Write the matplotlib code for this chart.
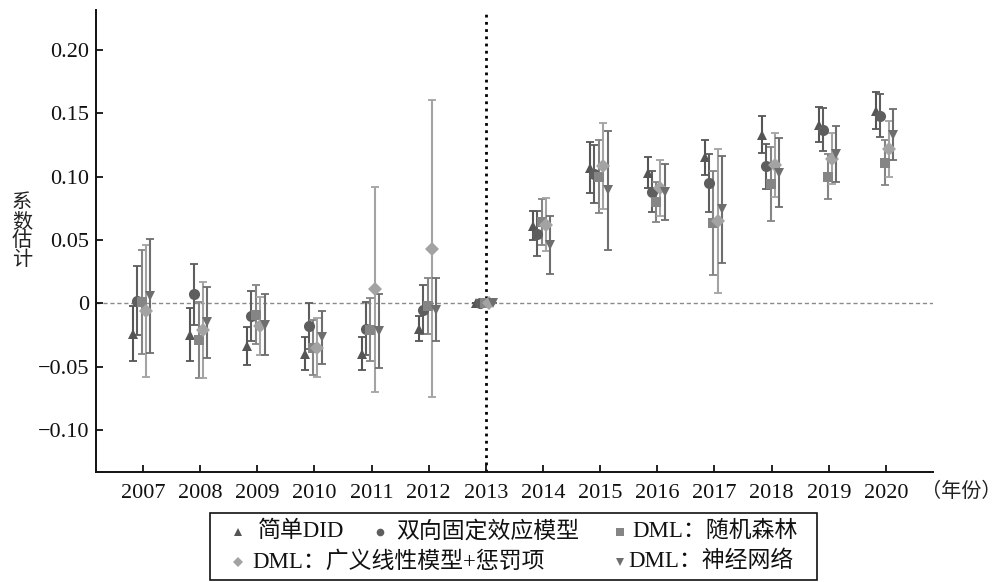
import matplotlib
matplotlib.use('Agg')
import matplotlib.pyplot as plt
from matplotlib.lines import Line2D
from matplotlib.patches import Rectangle
import numpy as np

plt.rcParams['font.family'] = ['Liberation Serif', 'Noto Sans CJK SC']

years = np.arange(2007, 2021)

did_est = [-0.024, -0.025, -0.034, -0.040, -0.040, -0.020, 0, 0.061, 0.107, 0.103, 0.115, 0.133, 0.141, 0.152]
did_err = [0.022, 0.021, 0.015, 0.013, 0.013, 0.010, 0, 0.0115, 0.020, 0.012, 0.014, 0.0145, 0.014, 0.0145]

twfe_est = [0.002, 0.007, -0.010, -0.018, -0.020, -0.005, 0, 0.055, 0.102, 0.088, 0.095, 0.108, 0.137, 0.148]
twfe_err = [0.027, 0.024, 0.020, 0.018, 0.021, 0.019, 0, 0.018, 0.023, 0.016, 0.023, 0.018, 0.017, 0.017]

rf_est = [0.001, -0.029, -0.009, -0.035, -0.021, -0.002, 0, 0.064, 0.100, 0.080, 0.063, 0.094, 0.100, 0.111]
rf_err = [0.041, 0.030, 0.023, 0.022, 0.025, 0.022, 0, 0.018, 0.029, 0.016, 0.041, 0.029, 0.018, 0.018]

glm_est = [-0.006, -0.021, -0.018, -0.035, 0.011, 0.043, 0, 0.062, 0.108, 0.091, 0.065, 0.109, 0.114, 0.122]
glm_err = [0.052, 0.038, 0.023, 0.023, 0.081, 0.117, 0, 0.021, 0.034, 0.022, 0.057, 0.025, 0.020, 0.022]

nn_est = [0.006, -0.015, -0.017, -0.027, -0.022, -0.005, 0, 0.046, 0.089, 0.088, 0.074, 0.103, 0.118, 0.133]
nn_err = [0.045, 0.028, 0.024, 0.021, 0.029, 0.025, 0, 0.023, 0.047, 0.022, 0.042, 0.027, 0.022, 0.020]

labels = ['简单DID', '双向固定效应模型', 'DML：随机森林', 'DML：广义线性模型+惩罚项', 'DML：神经网络']
markers = ['^', 'o', 's', 'D', 'v']
colors = ['#555555', '#5e5e5e', '#858585', '#a3a3a3', '#6e6e6e']
msizes = [7.5, 8, 7, 7.5, 7.5]
offsets = [-0.17, -0.10, -0.02, 0.055, 0.13]

y_ticks = [-0.10, -0.05, 0, 0.05, 0.10, 0.15, 0.20]
y_ticklabels = ['−0.10', '−0.05', '0', '0.05', '0.10', '0.15', '0.20']

series = [(did_est, did_err), (twfe_est, twfe_err), (rf_est, rf_err),
          (glm_est, glm_err), (nn_est, nn_err)]

fig = plt.figure(figsize=(10.02, 5.82), dpi=100)
ax = fig.add_axes([0.0958, 0.1895, 0.8352, 0.7935])

ax.axhline(0, color='#8a8a8a', ls=(0, (3, 2)), lw=1, zorder=1)
ax.axvline(2013, color='black', ls=(0, (1, 1.6)), lw=2, zorder=1)

for (est, err), m, c, ms, off in zip(series, markers, colors, msizes, offsets):
    cont = ax.errorbar(years + off, est, yerr=err, fmt=m, color=c, ecolor=c,
                       elinewidth=1.5, capsize=3, capthick=1.3, markersize=ms, zorder=3)
    cont[0].set_markeredgewidth(0)

ax.set_xlim(2006.18, 2020.82)
ax.set_ylim(-0.133, 0.2315)
ax.set_xticks(years)
ax.set_xticklabels([str(y) for y in years])
ax.set_yticks(y_ticks)
ax.set_yticklabels(y_ticklabels)
ax.tick_params(direction='in', length=5, width=1.3, labelsize=16, colors='#111111')
ax.tick_params(axis='x', pad=9)
ax.tick_params(axis='y', pad=5)
for s in ['top', 'right']:
    ax.spines[s].set_visible(False)
for s in ['left', 'bottom']:
    ax.spines[s].set_linewidth(1.4)
    ax.spines[s].set_color('#111111')

fig.text(22 / 1002, 1 - 232 / 582, '系\n数\n估\n计', fontsize=14.5, ha='center', va='center',
         linespacing=1.0, color='#222222')
fig.text(921 / 1002, 1 - 492 / 582, '（年份）', fontsize=14.5, ha='left', va='center',
         color='#222222')

# legend box drawn by hand to mimic the irregular layout
fig.add_artist(Rectangle((210 / 1002, 1 - 580 / 582), (817 - 210) / 1002, (580 - 512.7) / 582,
                         transform=fig.transFigure, fill=False, edgecolor='#111111', lw=1.2))
leg_pos = [(238, 531.7, 258), (380, 531.7, 396), (620, 531.7, 632),
           (238, 561.7, 252), (620, 561.7, 628)]
for (mx, my, tx), lab, m, c in zip(leg_pos, labels, markers, colors):
    fig.add_artist(Line2D([mx / 1002], [1 - my / 582], marker=m, color=c, markersize=5.5,
                          markeredgewidth=0, transform=fig.transFigure))
    fig.text(tx / 1002, 1 - my / 582, lab, fontsize=16.5, ha='left', va='center', color='#111111')

fig.savefig('out.png', dpi=100)
